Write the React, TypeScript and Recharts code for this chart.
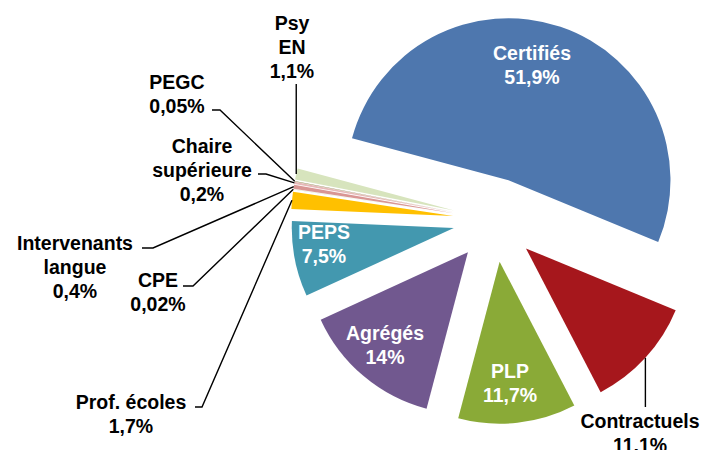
import React from 'react'
import { Pie, PieChart, Sector } from 'recharts'

// parts of the teaching staff, in %, clockwise from "Certifiés"
const names = ['Certifiés', 'Contractuels', 'PLP', 'Agrégés', 'PEPS', 'Prof. écoles', 'CPE', 'Intervenants langue', 'Chaire supérieure', 'PEGC', 'Psy EN']
const shares = [51.9, 11.1, 11.7, 14, 7.5, 1.7, 0.02, 0.4, 0.2, 0.05, 1.1]
const shareLabels = ['51,9%', '11,1%', '11,7%', '14%', '7,5%', '1,7%', '0,02%', '0,4%', '0,2%', '0,05%', '1,1%']
const nameLines = [['Certifiés'], ['Contractuels'], ['PLP'], ['Agrégés'], ['PEPS'], ['Prof. écoles'], ['CPE'], ['Intervenants', 'langue'], ['Chaire', 'supérieure'], ['PEGC'], ['Psy', 'EN']]
const colors = ['#4E77AE', '#A6171C', '#8AAA37', '#71588F', '#4398AF', '#FFC000', '#C3D69B', '#D99694', '#E6B9B8', '#948A54', '#D7E4BD']

const data = names.map((name, i) => ({ name, value: shares[i], fill: colors[i] }))

const RAD = Math.PI / 180
const EXPLODE = 42
const LINE_H = 23.8

// where each label goes: x = text centre, y = first baseline, leader = bend points
const layout: any[] = [
  { x: 532, y: 60, inside: true },
  { x: 640, y: 428, leader: [['a', 407]] },
  { x: 510, y: 378, inside: true },
  { x: 385, y: 340, inside: true },
  { x: 324, y: 239, inside: true },
  { x: 131, y: 409, leader: [[202, 407], [195, 407]] },
  { x: 158, y: 287, leader: [[193, 286], [183, 286]] },
  { x: 75, y: 250, leader: [[153, 248], [142, 248]] },
  { x: 202, y: 153, leader: [[266, 174], [258, 174]] },
  { x: 177, y: 89, leader: [[220, 110], [212, 110]] },
  { x: 292, y: 30, leader: [['a', 84]] },
]

const shift = (x: number, y: number, angle: number, d: number) => ({
  x: x + d * Math.cos(-angle * RAD),
  y: y + d * Math.sin(-angle * RAD),
})

const renderSlice = (props: any) => {
  const p = shift(props.cx, props.cy, props.midAngle, EXPLODE)
  return <Sector {...props} cx={p.x} cy={p.y} stroke="none" />
}

const renderLabel = (props: any) => {
  const { cx, cy, midAngle, outerRadius, index } = props
  const lay = layout[index]
  const lines = [...nameLines[index], shareLabels[index]]
  let leader = null
  if (lay.leader) {
    const c = shift(cx, cy, midAngle, EXPLODE)
    const a = shift(c.x, c.y, midAngle, outerRadius)
    const pts = [[a.x, a.y], ...lay.leader.map(([x, y]: any) => [x === 'a' ? a.x : x, y])]
    leader = <polyline points={pts.map((p) => p.join(',')).join(' ')} fill="none" stroke="#000" strokeWidth={1.4} />
  }
  return (
    <g key={index}>
      {leader}
      <text x={lay.x} y={lay.y} textAnchor="middle" fontFamily="'Liberation Sans', Arial, sans-serif" fontWeight="bold" fontSize={19.5} fill={lay.inside ? '#fff' : '#000'}>
        {lines.map((t, i) => (
          <tspan key={i} x={lay.x} dy={i === 0 ? 0 : LINE_H}>{t}</tspan>
        ))}
      </text>
    </g>
  )
}

export default function App() {
  return (
    <div style={{ position: 'absolute', left: 0, top: 0 }}>
      <PieChart width={704} height={450}>
        <Pie
          data={data}
          dataKey="value"
          nameKey="name"
          cx={490}
          cy={215}
          outerRadius={162}
          startAngle={165}
          endAngle={-195}
          stroke="none"
          shape={renderSlice}
          label={renderLabel}
          labelLine={false}
          isAnimationActive={false}
        />
      </PieChart>
    </div>
  )
}
